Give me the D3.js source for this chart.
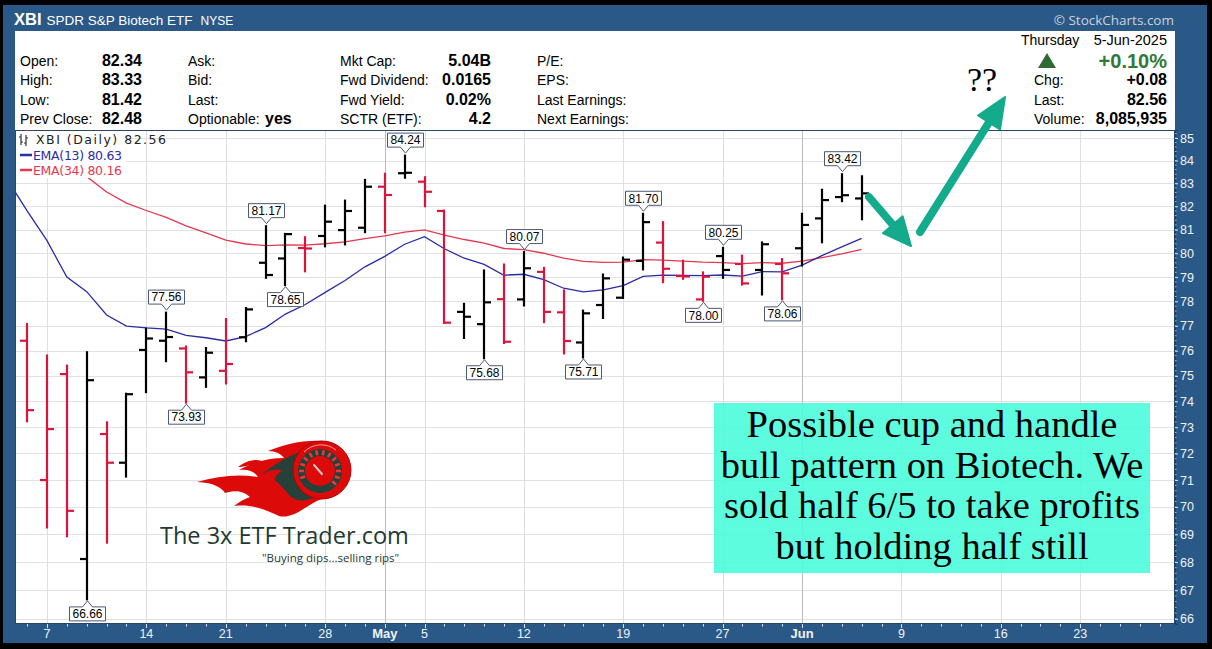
<!DOCTYPE html>
<html>
<head>
<meta charset="utf-8">
<title>XBI Daily</title>
<script src="https://cdn.jsdelivr.net/npm/d3@7"></script>
<style>
  html, body { margin: 0; padding: 0; background: #000; }
  svg { display: block; }
</style>
</head>
<body>
<svg id="chart" width="1212" height="649"></svg>
<script>
// ---- Trading calendar (Apr 3 – Jun 27, 2025) ----
const tradingDays = [
  "2025-04-03","2025-04-04","2025-04-07","2025-04-08","2025-04-09","2025-04-10","2025-04-11",
  "2025-04-14","2025-04-15","2025-04-16","2025-04-17",
  "2025-04-21","2025-04-22","2025-04-23","2025-04-24","2025-04-25",
  "2025-04-28","2025-04-29","2025-04-30","2025-05-01","2025-05-02",
  "2025-05-05","2025-05-06","2025-05-07","2025-05-08","2025-05-09",
  "2025-05-12","2025-05-13","2025-05-14","2025-05-15","2025-05-16",
  "2025-05-19","2025-05-20","2025-05-21","2025-05-22","2025-05-23",
  "2025-05-27","2025-05-28","2025-05-29","2025-05-30",
  "2025-06-02","2025-06-03","2025-06-04","2025-06-05","2025-06-06",
  "2025-06-09","2025-06-10","2025-06-11","2025-06-12","2025-06-13",
  "2025-06-16","2025-06-17","2025-06-18","2025-06-20",
  "2025-06-23","2025-06-24","2025-06-25","2025-06-26","2025-06-27"
];

// ---- Daily OHLC bars ----
const barDates = tradingDays.slice(1, 44); // Apr 4 .. Jun 5
const opens  = [76.40,71.00,75.07,68.11,72.74,71.65,76.03,76.40,76.09,74.94,75.20,76.54,79.60,79.78,80.22,
                80.73,80.98,81.08,82.85,83.44,83.07,81.80,77.57,77.07,78.09,78.08,79.22,77.55,76.33,77.85,
                78.15,79.68,80.45,79.05,78.08,79.88,79.55,79.30,79.55,80.21,81.48,82.40,82.34];
const highs  = [77.10,75.83,75.43,75.96,73.21,74.32,76.91,77.56,76.19,76.13,77.30,77.75,81.17,80.84,80.70,
                82.05,82.27,83.17,83.44,84.24,83.29,81.84,77.92,79.30,79.55,80.07,79.41,78.47,77.64,79.13,
                79.84,81.70,81.34,79.71,79.22,80.25,79.92,80.48,79.78,81.70,82.74,83.42,83.33];
const lows   = [73.21,69.23,68.91,66.66,68.68,71.11,74.34,75.56,73.93,74.55,74.68,76.36,78.95,78.65,79.22,
                80.27,80.35,80.87,80.87,83.22,81.98,77.10,76.49,75.68,76.29,77.81,77.13,75.87,75.71,77.30,
                78.12,79.30,78.77,78.91,78.00,78.95,78.67,78.26,78.06,79.46,80.44,82.20,81.42];
const closes = [73.66,72.93,69.86,74.83,71.65,74.28,76.49,76.55,75.14,75.92,75.47,77.67,79.09,80.81,80.20,
                81.34,81.80,82.85,82.49,83.46,82.63,77.13,77.37,77.96,76.36,79.37,77.57,76.39,77.51,78.95,
                79.73,81.32,79.35,79.03,79.02,79.30,78.74,80.38,79.16,81.20,82.27,82.48,82.56];

// ---- Moving averages (Apr 3 .. Jun 5) ----
const emaDates = tradingDays.slice(0, 44);
const ema13 = [83.16,81.80,80.53,79.00,78.40,77.44,76.99,76.92,76.87,76.62,76.52,76.39,76.57,76.93,77.48,77.87,
               78.37,78.86,79.43,79.87,80.38,80.70,80.19,79.79,79.53,79.08,79.12,78.90,78.54,78.39,78.47,78.65,
               79.03,79.08,79.07,79.06,79.09,79.04,79.23,79.22,79.50,79.90,80.27,80.63];
const ema34 = [86.06,85.35,84.64,83.80,83.29,82.62,82.14,81.82,81.52,81.16,80.86,80.55,80.39,80.32,80.35,80.34,
               80.40,80.48,80.62,80.73,80.89,80.99,80.77,80.58,80.43,80.20,80.15,80.00,79.79,79.66,79.62,79.63,
               79.73,79.71,79.67,79.63,79.61,79.56,79.61,79.58,79.67,79.82,79.97,80.16];

// ---- Axis ticks ----
const priceTicks = d3.range(66, 86);
const dateTickDates  = ["2025-04-07","2025-04-14","2025-04-21","2025-04-28","2025-05-01","2025-05-05","2025-05-12",
                        "2025-05-19","2025-05-27","2025-06-02","2025-06-09","2025-06-16","2025-06-23"];
const dateTickLabels = ["7","14","21","28","May","5","12","19","27","Jun","9","16","23"];
const monthStarts    = ["2025-05-01","2025-06-02"];

// ---- Swing high / low callouts ----
const highCalloutDates = ["2025-04-15","2025-04-23","2025-05-02","2025-05-12","2025-05-20","2025-05-27","2025-06-04"];
const lowCalloutDates  = ["2025-04-09","2025-04-16","2025-04-24","2025-05-08","2025-05-15","2025-05-23","2025-05-30"];

// ---- Quote panel ----
const quoteLeft = [
  ["Open:", "82.34"], ["High:", "83.33"], ["Low:", "81.42"], ["Prev Close:", "82.48"]
];
const quoteMid = ["Ask:", "Bid:", "Last:", "Optionable:"];
const quoteFund = [
  ["Mkt Cap:", "5.04B"], ["Fwd Dividend:", "0.0165"], ["Fwd Yield:", "0.02%"], ["SCTR (ETF):", "4.2"]
];
const quoteEarn = ["P/E:", "EPS:", "Last Earnings:", "Next Earnings:"];
const quoteRight = [["Chg:", "+0.08"], ["Last:", "82.56"], ["Volume:", "8,085,935"]];

const noteLines = [
  "Possible cup and handle",
  "bull pattern on Biotech. We",
  "sold half 6/5 to take profits",
  "but holding half still"
];

// ================== drawing ==================
const svg = d3.select("#chart");
const FRAME = "#2b5987";
const SANS = "'Liberation Sans', Arial, sans-serif";
const plot = { left: 15, right: 1175, top: 130, bottom: 624 };

const dayIndex = new Map(tradingDays.map((d, i) => [d, i]));
const x = d3.scaleLinear().domain([0.3895, 58.77]).range([plot.left, plot.right]);
const xd = d => x(dayIndex.get(d));
const y = d3.scaleLog().domain([65.82, 85.36]).range([plot.bottom, plot.top]);

// frame
svg.append("rect").attr("width", 1212).attr("height", 649).attr("fill", "#000");
svg.append("rect").attr("x", 3).attr("y", 5).attr("width", 1204).attr("height", 638).attr("fill", FRAME);

// title bar
const title = svg.append("text").attr("x", 14).attr("y", 25).attr("fill", "#fff").attr("font-family", SANS);
title.append("tspan").attr("font-weight", "bold").attr("font-size", 16.5).text("XBI");
title.append("tspan").attr("font-size", 13.5).attr("dx", 5).text("SPDR S&P Biotech ETF");
title.append("tspan").attr("font-size", 12).attr("dx", 8).text("NYSE");
svg.append("text").attr("x", 1174).attr("y", 25).attr("text-anchor", "end")
  .attr("fill", "#c9d2dd").attr("font-family", "'Open Sans', 'DejaVu Sans', sans-serif").attr("font-size", 13.5)
  .text("\u00A9 StockCharts.com");

// quote panel
svg.append("rect").attr("x", plot.left).attr("y", 31).attr("width", plot.right - plot.left).attr("height", 99)
  .attr("fill", "#fff");
const rowY = [66, 85, 105, 124];
const VAL = 16;
const qp = svg.append("g").attr("font-family", SANS).attr("font-size", 14).attr("fill", "#000");
quoteLeft.forEach((r, i) => {
  qp.append("text").attr("x", 20).attr("y", rowY[i]).text(r[0]);
  qp.append("text").attr("x", 142).attr("y", rowY[i]).attr("text-anchor", "end").attr("font-weight", "bold")
    .attr("font-size", VAL).text(r[1]);
});
quoteMid.forEach((t, i) => qp.append("text").attr("x", 188).attr("y", rowY[i]).text(t));
qp.append("text").attr("x", 265).attr("y", rowY[3]).attr("font-weight", "bold").attr("font-size", VAL).text("yes");
quoteFund.forEach((r, i) => {
  qp.append("text").attr("x", 340).attr("y", rowY[i]).text(r[0]);
  qp.append("text").attr("x", 491).attr("y", rowY[i]).attr("text-anchor", "end").attr("font-weight", "bold")
    .attr("font-size", VAL).text(r[1]);
});
quoteEarn.forEach((t, i) => qp.append("text").attr("x", 537).attr("y", rowY[i]).text(t));

qp.append("text").attr("x", 1021).attr("y", 45).text("Thursday");
qp.append("text").attr("x", 1167).attr("y", 45).attr("text-anchor", "end").attr("font-size", 14.5).text("5-Jun-2025");
qp.append("path").attr("d", "M1047,53 L1056,68 L1038,68 Z").attr("fill", "#2e6b32");
qp.append("text").attr("x", 1167).attr("y", 68).attr("text-anchor", "end").attr("font-weight", "bold")
  .attr("font-size", 20).attr("fill", "#2f7a36").text("+0.10%");
quoteRight.forEach((r, i) => {
  qp.append("text").attr("x", 1034).attr("y", rowY[i + 1]).text(r[0]);
  qp.append("text").attr("x", 1167).attr("y", rowY[i + 1]).attr("text-anchor", "end").attr("font-weight", "bold")
    .attr("font-size", VAL).text(r[1]);
});

// plot background
svg.append("rect").attr("x", plot.left).attr("y", plot.top).attr("width", plot.right - plot.left)
  .attr("height", plot.bottom - plot.top).attr("fill", "#fff");

svg.append("defs").append("clipPath").attr("id", "plotClip").append("rect")
  .attr("x", plot.left).attr("y", plot.top).attr("width", plot.right - plot.left).attr("height", plot.bottom - plot.top);

// grid
const grid = svg.append("g").attr("clip-path", "url(#plotClip)");
grid.selectAll("line.h").data(priceTicks).join("line")
  .attr("x1", plot.left).attr("x2", plot.right)
  .attr("y1", d => Math.round(y(d)) + 0.5).attr("y2", d => Math.round(y(d)) + 0.5)
  .attr("stroke", "#e1e1e1").attr("stroke-width", 1);
grid.selectAll("line.v").data(dateTickDates).join("line")
  .attr("x1", d => Math.round(xd(d)) + 0.5).attr("x2", d => Math.round(xd(d)) + 0.5)
  .attr("y1", plot.top).attr("y2", plot.bottom)
  .attr("stroke", d => monthStarts.includes(d) ? "#bdbdbd" : "#dedede").attr("stroke-width", 1);

// right price axis
const yAxis = d3.axisRight(y).tickValues(priceTicks).tickFormat(d3.format("d")).tickSize(3).tickPadding(2);
const ya = svg.append("g").attr("transform", `translate(${plot.right},0)`).call(yAxis);
ya.select(".domain").attr("stroke", "#1e3c5c");
ya.selectAll(".tick line").attr("stroke", "#d6e0ea");
ya.selectAll(".tick text").attr("fill", "#eef3f8").attr("font-family", SANS).attr("font-size", 12.5);
// fine ticks along the price scale
svg.append("g").selectAll("line").data(d3.range(66, 85.2, 0.2)).join("line")
  .attr("x1", plot.right).attr("x2", plot.right + 1.5)
  .attr("y1", d => y(d)).attr("y2", d => y(d)).attr("stroke", "#c8d6e4").attr("stroke-width", 0.8);

// bottom date axis
const visibleDays = tradingDays.filter(d => xd(d) >= plot.left && xd(d) <= plot.right);
svg.append("g").selectAll("line").data(visibleDays).join("line")
  .attr("x1", d => Math.round(xd(d)) + 0.5).attr("x2", d => Math.round(xd(d)) + 0.5)
  .attr("y1", plot.bottom).attr("y2", d => dateTickDates.includes(d) ? plot.bottom + 4 : plot.bottom + 2.5)
  .attr("stroke", "#d6e0ea").attr("stroke-width", 1);
svg.append("g").selectAll("text").data(dateTickDates).join("text")
  .attr("x", d => xd(d)).attr("y", 638).attr("text-anchor", "middle")
  .attr("fill", "#eef3f8").attr("font-family", SANS)
  .attr("font-size", (d, i) => monthStarts.includes(d) ? 13 : 12.5)
  .attr("font-weight", d => monthStarts.includes(d) ? "bold" : "normal")
  .text((d, i) => dateTickLabels[i]);

// plot borders
svg.append("rect").attr("x", plot.left + 0.5).attr("y", plot.top + 0.5)
  .attr("width", plot.right - plot.left - 1).attr("height", plot.bottom - plot.top - 1)
  .attr("fill", "none").attr("stroke", "#2a4666").attr("stroke-width", 1);

// ---- logo ----
const logo = svg.append("g").attr("clip-path", "url(#plotClip)");
logo.append("path").attr("fill", "#dd0a0a").attr("d",
  "M322,441 C302,440 286,444 268,451 C276,451 281,454 284,458 C268,458 254,462 239,470 C249,469 255,472 258,477 " +
  "C238,474 218,476 197,482 C214,483 221,487 225,493 C237,489 245,492 250,497 C244,499 239,502 234,506 " +
  "C254,504 266,510 279,516 C294,520 310,502 322,499 Z");
logo.append("path").attr("fill", "#dd0a0a").attr("d",
  "M262,466 C252,462 246,468 238,467 C244,463 252,458 262,461 Z");
logo.append("path").attr("fill", "#26403a").attr("d",
  "M318,448 C300,449 282,459 262,474 C274,477 281,485 289,495 C299,505 312,499 318,495 Z");
logo.append("path").attr("fill", "#dd0a0a").attr("d",
  "M283,470 C272,468 264,472 257,478 C266,478 272,482 276,488 C272,480 276,474 283,470 Z");
logo.append("circle").attr("cx", 322).attr("cy", 470).attr("r", 29).attr("fill", "#dd0a0a")
  .attr("stroke", "#b00000").attr("stroke-width", 1);
logo.append("circle").attr("cx", 320).attr("cy", 471).attr("r", 22).attr("fill", "#26403a");
logo.append("circle").attr("cx", 320).attr("cy", 471).attr("r", 15).attr("fill", "#dd0a0a");
logo.append("g").selectAll("line").data(d3.range(-200, 41, 20)).join("line")
  .attr("x1", a => 320 + 16 * Math.cos(a * Math.PI / 180)).attr("y1", a => 471 + 16 * Math.sin(a * Math.PI / 180))
  .attr("x2", a => 320 + 21 * Math.cos(a * Math.PI / 180)).attr("y2", a => 471 + 21 * Math.sin(a * Math.PI / 180))
  .attr("stroke", "#e83a3a").attr("stroke-width", 2.5);
logo.append("line").attr("x1", 322).attr("y1", 474).attr("x2", 314).attr("y2", 465)
  .attr("stroke", "#c9c9c9").attr("stroke-width", 2).attr("stroke-linecap", "round");
logo.append("path").attr("d", "M304,452 A24,24 0 0 1 336,450").attr("fill", "none")
  .attr("stroke", "#f3a0a0").attr("stroke-width", 1);
logo.append("text").attr("x", 160).attr("y", 544).attr("fill", "#1f3a32")
  .attr("font-family", "'Open Sans', 'DejaVu Sans', sans-serif").attr("font-size", 23.5)
  .text("The 3x ETF Trader.com");
logo.append("text").attr("x", 262).attr("y", 562).attr("fill", "#1f3a32")
  .attr("font-family", "'Open Sans', 'DejaVu Sans', sans-serif").attr("font-size", 11.5)
  .text("\"Buying dips...selling rips\"");

// ---- moving averages ----
const lineFor = vals => d3.line().x((d, i) => xd(emaDates[i])).y(d => y(d))(vals);
const lines = svg.append("g").attr("clip-path", "url(#plotClip)").attr("fill", "none");
lines.append("path").attr("d", lineFor(ema34)).attr("stroke", "#e5374f").attr("stroke-width", 1.3);
lines.append("path").attr("d", lineFor(ema13)).attr("stroke", "#2b2ba3").attr("stroke-width", 1.3);

// ---- OHLC bars ----
const bars = svg.append("g").attr("clip-path", "url(#plotClip)");
barDates.forEach((d, i) => {
  const prev = i > 0 ? closes[i - 1] : opens[i];
  const col = closes[i] >= prev ? "#000" : "#dc143c";
  const cx = Math.round(xd(d));
  const g = bars.append("g").attr("stroke", col).attr("stroke-width", 2.2);
  g.append("line").attr("x1", cx).attr("x2", cx).attr("y1", y(highs[i]) - 0.5).attr("y2", y(lows[i]) + 0.5);
  g.append("line").attr("x1", cx - 7).attr("x2", cx).attr("y1", y(opens[i])).attr("y2", y(opens[i]));
  g.append("line").attr("x1", cx).attr("x2", cx + 7).attr("y1", y(closes[i])).attr("y2", y(closes[i]));
});

// ---- callouts ----
const callouts = svg.append("g").attr("font-family", SANS).attr("font-size", 12);
function callout(d, val, above) {
  const cx = Math.round(xd(d)) + 0.5;
  const py = y(val);
  const w = 36, h = 14, nw = 5, nh = 6;
  const tip = above ? py - 2 : py + 1;
  const edge = above ? tip - nh : tip + nh;
  const far = above ? edge - h : edge + h;
  const l = cx - w / 2, r = cx + w / 2;
  const path = `M${l},${far} L${r},${far} L${r},${edge} L${cx + nw},${edge} L${cx},${tip} L${cx - nw},${edge} L${l},${edge} Z`;
  callouts.append("path").attr("d", path).attr("fill", "#fff").attr("stroke", "#4b5877").attr("stroke-width", 1);
  callouts.append("text").attr("x", cx).attr("y", (far + edge) / 2 + 4.3).attr("text-anchor", "middle")
    .attr("fill", "#000").text(val.toFixed(2));
}
highCalloutDates.forEach(d => callout(d, highs[barDates.indexOf(d)], true));
lowCalloutDates.forEach(d => callout(d, lows[barDates.indexOf(d)], false));

// ---- legend ----
const leg = svg.append("g").attr("font-family", "'DejaVu Sans', Verdana, sans-serif").attr("font-size", 12.5);
leg.append("rect").attr("x", plot.left + 1).attr("y", plot.top + 1).attr("width", 110).attr("height", 47).attr("fill", "#fff");
const icon = leg.append("g").attr("stroke", "#333").attr("stroke-width", 1.2);
icon.append("line").attr("x1", 21).attr("x2", 21).attr("y1", 134).attr("y2", 145);
icon.append("line").attr("x1", 19).attr("x2", 21).attr("y1", 137).attr("y2", 137);
icon.append("line").attr("x1", 21).attr("x2", 23).attr("y1", 142).attr("y2", 142);
icon.append("line").attr("x1", 26).attr("x2", 26).attr("y1", 135).attr("y2", 146);
icon.append("line").attr("x1", 24).attr("x2", 26).attr("y1", 143).attr("y2", 143);
icon.append("line").attr("x1", 26).attr("x2", 28).attr("y1", 138).attr("y2", 138);
leg.append("text").attr("x", 36).attr("y", 144).attr("fill", "#222").attr("textLength", 130)
  .text(`XBI (Daily) ${closes[closes.length - 1].toFixed(2)}`);
leg.append("line").attr("x1", 20).attr("x2", 32).attr("y1", 155).attr("y2", 155).attr("stroke", "#2b2ba3").attr("stroke-width", 2.5);
leg.append("text").attr("x", 33).attr("y", 159.5).attr("fill", "#2b2ba3").attr("textLength", 89)
  .text(`EMA(13) ${ema13[ema13.length - 1].toFixed(2)}`);
leg.append("line").attr("x1", 20).attr("x2", 32).attr("y1", 170).attr("y2", 170).attr("stroke", "#e5374f").attr("stroke-width", 2.5);
leg.append("text").attr("x", 33).attr("y", 174.5).attr("fill", "#e5374f").attr("textLength", 89)
  .text(`EMA(34) ${ema34[ema34.length - 1].toFixed(2)}`);

// ---- annotation: note box ----
const note = svg.append("g");
note.append("rect").attr("x", 714).attr("y", 403).attr("width", 436).attr("height", 170)
  .attr("fill", "#4dfcdc").attr("fill-opacity", 0.9);
const SERIF = "'Liberation Serif', 'DejaVu Serif', serif";
const probe = note.append("text").attr("font-family", SERIF).attr("font-size", 33).text(noteLines[0]);
const fs = 33 * 371 / probe.node().getComputedTextLength();
probe.remove();
noteLines.forEach((t, i) => {
  note.append("text").attr("x", 932).attr("y", 437 + i * 40.5).attr("text-anchor", "middle")
    .attr("font-family", SERIF).attr("font-size", fs).attr("fill", "#000").text(t);
});

// ---- annotation: arrows ----
const TEAL = "#14aa8c";
function arrow(x1, y1, x2, y2, headLen, headHalf) {
  const dx = x2 - x1, dy = y2 - y1, len = Math.hypot(dx, dy);
  const ux = dx / len, uy = dy / len, px = -uy, py = ux;
  const bx = x2 - ux * headLen, by = y2 - uy * headLen;
  svg.append("line").attr("x1", x1).attr("y1", y1).attr("x2", bx + ux * 2).attr("y2", by + uy * 2)
    .attr("stroke", TEAL).attr("stroke-width", 8).attr("stroke-linecap", "round");
  svg.append("path").attr("fill", TEAL).attr("stroke", TEAL).attr("stroke-width", 2).attr("stroke-linejoin", "round")
    .attr("d", `M${x2},${y2} L${bx + px * headHalf},${by + py * headHalf} L${bx - px * headHalf},${by - py * headHalf} Z`);
}
arrow(869, 197, 911, 246, 28, 13);
arrow(920, 232, 1005, 97, 30, 13);

svg.append("text").attr("x", 967).attr("y", 91).attr("font-family", SERIF).attr("font-size", 34)
  .attr("fill", "#000").text("??");
</script>
</body>
</html>
